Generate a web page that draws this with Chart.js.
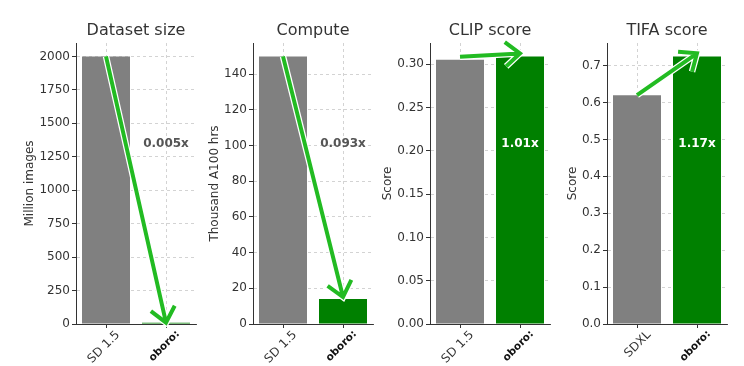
<!DOCTYPE html>
<html>
<head>
<meta charset="utf-8">
<script src="https://cdn.jsdelivr.net/npm/chart.js@4/dist/chart.umd.min.js"></script>
<style>
  html, body { margin: 0; padding: 0; background: #fff; }
  #wrap { position: relative; width: 744px; height: 366px; overflow: hidden; }
  .panel { position: absolute; top: 0; width: 200px; height: 366px; }
</style>
</head>
<body>
<div id="wrap"></div>
<script>
// ---- data ----
const panelTitles = ['Dataset size', 'Compute', 'CLIP score', 'TIFA score'];
const yAxisTitles = ['Million images', 'Thousand A100 hrs', 'Score', 'Score'];
const categoryLabels = [
  ['SD 1.5', 'oboro:'],
  ['SD 1.5', 'oboro:'],
  ['SD 1.5', 'oboro:'],
  ['SDXL', 'oboro:']
];
const baselineValues = [2000, 150, 0.305, 0.62];
const oboroValues = [10, 14, 0.309, 0.725];
const ratioLabels = ['0.005x', '0.093x', '1.01x', '1.17x'];
const yTickSteps = [250, 20, 0.05, 0.1];
const yTickDecimals = [0, 0, 2, 1];

// ---- styles ----
const axisLefts = [76, 253, 430, 607];      // left spine of each axes
const yTitleOffsets = [23, 31, 27, 35];     // distance of y label from canvas left
const ratioColors = ['#555555', '#555555', '#ffffff', '#ffffff'];
const arrowLift = [[0, 0], [0, 2], [3, 3], [0, 3]]; // px lift at start/end
const GRAY = '#808080', GREEN = '#008000', ARROW = '#22bb22';
const FONT = 'DejaVu Sans';

function drawArrow(ctx, x0, y0, x1, y1) {
  const ang = Math.atan2(y1 - y0, x1 - x0);
  const head = 19, spread = 40 * Math.PI / 180;
  const lx = x1 - head * Math.cos(ang - spread), ly = y1 - head * Math.sin(ang - spread);
  const rx = x1 - head * Math.cos(ang + spread), ry = y1 - head * Math.sin(ang + spread);
  const path = () => {
    ctx.beginPath();
    ctx.moveTo(x0, y0); ctx.lineTo(x1, y1);
    ctx.moveTo(lx, ly); ctx.lineTo(x1, y1); ctx.lineTo(rx, ry);
  };
  ctx.save();
  ctx.lineJoin = 'miter';
  ctx.lineCap = 'butt';
  path(); ctx.strokeStyle = '#ffffff'; ctx.lineWidth = 6.5; ctx.stroke();
  path(); ctx.strokeStyle = ARROW; ctx.lineWidth = 4; ctx.stroke();
  ctx.restore();
}

const overlayPlugin = {
  id: 'overlay',
  afterDraw(chart) {
    const i = chart.options.plugins.overlay.panel;
    const {ctx, scales: {x, y}} = chart;
    const x0 = x.getPixelForValue(0), x1 = x.getPixelForValue(1);
    const y0 = y.getPixelForValue(baselineValues[i]) - arrowLift[i][0];
    const y1 = y.getPixelForValue(oboroValues[i]) - arrowLift[i][1];
    drawArrow(ctx, x0, y0, x1, y1);

    // ratio label at 64% of the axes height
    const ty = y.getPixelForValue(y.max * 0.64);
    ctx.save();
    ctx.font = 'bold 12px "' + FONT + '"';
    ctx.fillStyle = ratioColors[i];
    ctx.textAlign = 'center';
    ctx.textBaseline = 'middle';
    ctx.fillText(ratioLabels[i], x1, ty);
    ctx.restore();
  }
};

const wrap = document.getElementById('wrap');

panelTitles.forEach((title, i) => {
  const div = document.createElement('div');
  div.className = 'panel';
  div.style.left = (axisLefts[i] - 76) + 'px';
  const canvas = document.createElement('canvas');
  canvas.width = 200; canvas.height = 366;
  div.appendChild(canvas);
  wrap.appendChild(div);

  const yMax = Math.max(baselineValues[i], oboroValues[i]) * 1.05;

  new Chart(canvas.getContext('2d'), {
    type: 'bar',
    data: {
      labels: categoryLabels[i],
      datasets: [{
        data: [baselineValues[i], oboroValues[i]],
        backgroundColor: [GRAY, GREEN],
        borderWidth: 0,
        barPercentage: 0.8,
        categoryPercentage: 1.0
      }]
    },
    options: {
      responsive: false,
      animation: false,
      layout: { padding: { left: 0, right: 4, top: 0, bottom: 0 } },
      plugins: {
        legend: { display: false },
        tooltip: { enabled: false },
        title: {
          display: true,
          text: title,
          fullSize: false,
          color: '#333333',
          font: { family: FONT, size: 16, weight: 'normal' },
          padding: { top: 21, bottom: 2.8 }
        },
        overlay: { panel: i }
      },
      scales: {
        x: {
          z: 1,
          offset: true,
          grid: {
            offset: false,
            color: 'rgba(176,176,176,0.7)',
            lineWidth: 0.8,
            tickLength: 4,
            tickColor: '#333333',
            tickWidth: 1,
            tickBorderDash: []
          },
          border: { display: true, color: '#333333', width: 1, dash: [3, 3] },
          ticks: {
            autoSkip: false,
            minRotation: 45,
            maxRotation: 45,
            padding: 0,
            labelOffset: 12,
            color: ctx => ctx.index === 1 ? '#111111' : '#333333',
            font: ctx => ctx.index === 1
              ? { family: FONT, size: 10.5, weight: 'bold' }
              : { family: FONT, size: 12 }
          },
          afterFit: s => { s.height = 42; }
        },
        y: {
          z: 1,
          min: 0,
          max: yMax,
          grid: {
            color: 'rgba(176,176,176,0.7)',
            lineWidth: 0.8,
            tickLength: 4,
            tickColor: '#333333',
            tickWidth: 1,
            tickBorderDash: []
          },
          border: { display: true, color: '#333333', width: 1, dash: [3, 3] },
          ticks: {
            stepSize: yTickSteps[i],
            includeBounds: false,
            padding: 2,
            color: '#333333',
            font: { family: FONT, size: 12 },
            callback: v => Number(v).toFixed(yTickDecimals[i])
          },
          title: {
            display: true,
            text: yAxisTitles[i],
            color: '#333333',
            font: { family: FONT, size: 12 },
            padding: { top: yTitleOffsets[i], bottom: 0 }
          },
          afterFit: s => { s.width = 76; }
        }
      }
    },
    plugins: [overlayPlugin]
  });
});
</script>
</body>
</html>
